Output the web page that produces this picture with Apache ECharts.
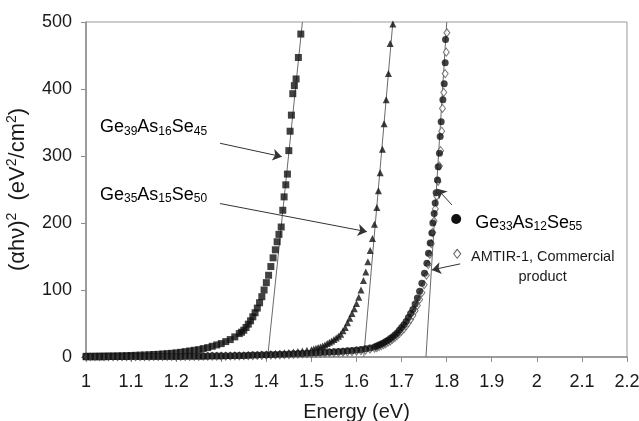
<!DOCTYPE html>
<html lang="en">
<head>
<meta charset="UTF-8">
<title>Tauc plot</title>
<script src="https://cdn.jsdelivr.net/npm/echarts@6.0.0/dist/echarts.min.js"></script>
<style>
    html, body { margin: 0; padding: 0; background: #fff; }
    #main { width: 639px; height: 421px; }
</style>
</head>
<body>
<div id="main"></div>
<script>
// ---- data: [energy (eV), (alpha h nu)^2] ----
var ge39 = [[1.00,1],[1.01,1],[1.02,1.1],[1.03,1.2],[1.04,1.3],[1.05,1.4],[1.06,1.5],[1.07,1.6],[1.08,1.8],[1.09,2],
    [1.10,2.2],[1.11,2.5],[1.12,2.8],[1.13,3],[1.14,3.3],[1.15,3.7],[1.16,4],[1.17,4.5],[1.18,5],[1.19,5.5],
    [1.20,6.2],[1.21,7],[1.22,8],[1.23,9],[1.24,10],[1.25,11],[1.26,12.5],[1.27,14],[1.28,16],[1.29,18],
    [1.30,20],[1.31,23],[1.32,26],[1.33,30],[1.34,35],[1.345,37],[1.35,40],[1.355,44],[1.36,49],[1.365,54],
    [1.37,60],[1.375,66],[1.38,73],[1.385,81],[1.39,90],[1.395,100],[1.40,111],[1.405,122],[1.41,135],[1.415,148],
    [1.42,160],[1.424,172],[1.428,183],[1.433,194],[1.4365,219],[1.4394,239],[1.4432,257],[1.4468,273],[1.4499,308],[1.4527,337],
    [1.4556,361],[1.4587,393],[1.4622,405],[1.466,415],[1.4711,447],[1.4765,482]];

var ge35 = [[1.00,0.5],[1.01,0.5],[1.02,0.5],[1.03,0.5],[1.04,0.5],[1.05,0.6],[1.06,0.6],[1.07,0.6],[1.08,0.7],[1.09,0.7],
    [1.10,0.8],[1.11,0.8],[1.12,0.9],[1.13,0.9],[1.14,1],[1.15,1],[1.16,1.1],[1.17,1.1],[1.18,1.2],[1.19,1.2],
    [1.20,1.3],[1.21,1.3],[1.22,1.4],[1.23,1.4],[1.24,1.5],[1.25,1.5],[1.26,1.6],[1.27,1.7],[1.28,1.8],[1.29,1.9],
    [1.30,2],[1.31,2.1],[1.32,2.2],[1.33,2.4],[1.34,2.6],[1.35,2.8],[1.36,3],[1.37,3.3],[1.38,3.6],[1.39,4],
    [1.40,4.4],[1.41,4.8],[1.42,5.2],[1.43,5.7],[1.44,6.2],[1.45,6.8],[1.46,7.5],[1.47,8.2],[1.48,9],[1.49,10],
    [1.50,11],[1.505,12],[1.51,13],[1.515,14],[1.52,15],[1.525,16.5],[1.53,18],[1.535,20],[1.54,22],[1.545,24],
    [1.55,26],[1.555,28.5],[1.56,31],[1.565,34],[1.57,39],[1.575,44],[1.58,51],[1.585,58],[1.59,65],[1.595,72],
    [1.60,80],[1.605,89],[1.61,100],[1.6154,114],[1.6207,127],[1.6252,142],[1.6303,159],[1.6354,177],[1.6398,198],[1.6452,223],
    [1.6487,248],[1.6525,275],[1.6576,310],[1.6613,348],[1.6658,384],[1.6709,423],[1.6747,468],[1.6807,497]];

var ge33 = [[1.00,0.8],[1.01,0.8],[1.02,0.8],[1.03,0.8],[1.04,0.8],[1.05,0.9],[1.06,0.9],[1.07,0.9],[1.08,0.9],[1.09,0.9],
    [1.10,1],[1.11,1],[1.12,1],[1.13,1.1],[1.14,1.1],[1.15,1.1],[1.16,1.2],[1.17,1.2],[1.18,1.2],[1.19,1.3],
    [1.20,1.3],[1.21,1.3],[1.22,1.4],[1.23,1.4],[1.24,1.5],[1.25,1.5],[1.26,1.6],[1.27,1.6],[1.28,1.7],[1.29,1.7],
    [1.30,1.8],[1.31,1.9],[1.32,2],[1.33,2.1],[1.34,2.2],[1.35,2.4],[1.36,2.6],[1.37,2.8],[1.38,3],[1.39,3.2],
    [1.40,3.4],[1.41,3.6],[1.42,3.8],[1.43,4],[1.44,4.2],[1.45,4.5],[1.46,4.8],[1.47,5.1],[1.48,5.4],[1.49,5.7],
    [1.50,6],[1.51,6.3],[1.52,6.6],[1.53,7],[1.54,7.4],[1.55,7.8],[1.56,8.2],[1.57,8.7],[1.58,9.2],[1.59,9.8],
    [1.60,10.5],[1.61,11.3],[1.62,12.3],[1.63,13.5],[1.64,15],[1.645,16.5],[1.65,18],[1.655,19.5],[1.66,21],[1.665,23],
    [1.67,25],[1.675,27.5],[1.68,30],[1.685,33],[1.69,36],[1.695,40],[1.70,44],[1.705,48],[1.71,53],[1.715,59],
    [1.72,65],[1.725,71],[1.73,79],[1.735,88],[1.74,98],[1.745,110],[1.7508,125],[1.7561,140],[1.7597,155],[1.7634,170],
    [1.7672,185],[1.7694,200],[1.7723,214],[1.7745,230],[1.7767,245],[1.7796,264],[1.7812,284],[1.784,304],[1.7856,329],[1.7878,351],
    [1.7916,384],[1.7945,408],[1.7967,439],[1.7975,474]];

var amtir = [[1.00,0.3],[1.01,0.3],[1.02,0.3],[1.03,0.3],[1.04,0.3],[1.05,0.4],[1.06,0.4],[1.07,0.4],[1.08,0.4],[1.09,0.5],
    [1.10,0.5],[1.11,0.5],[1.12,0.6],[1.13,0.6],[1.14,0.6],[1.15,0.7],[1.16,0.7],[1.17,0.7],[1.18,0.8],[1.19,0.8],
    [1.20,0.8],[1.21,0.9],[1.22,0.9],[1.23,0.9],[1.24,1],[1.25,1],[1.26,1.1],[1.27,1.1],[1.28,1.2],[1.29,1.2],
    [1.30,1.3],[1.31,1.4],[1.32,1.5],[1.33,1.6],[1.34,1.7],[1.35,1.8],[1.36,1.9],[1.37,2],[1.38,2.2],[1.39,2.4],
    [1.40,2.6],[1.41,2.8],[1.42,3],[1.43,3.2],[1.44,3.4],[1.45,3.6],[1.46,3.9],[1.47,4.2],[1.48,4.5],[1.49,4.8],
    [1.50,5.1],[1.51,5.4],[1.52,5.7],[1.53,6],[1.54,6.3],[1.55,6.6],[1.56,6.9],[1.57,7.2],[1.58,7.6],[1.59,8],
    [1.60,8.7],[1.61,9.4],[1.62,10.3],[1.63,11.5],[1.64,13],[1.645,14],[1.65,15.5],[1.655,17],[1.66,18.5],[1.665,20],
    [1.67,22],[1.675,24],[1.68,26.5],[1.685,29],[1.69,32],[1.695,35],[1.70,38.5],[1.705,42],[1.71,46.5],[1.715,51],
    [1.72,56],[1.725,62],[1.73,69],[1.735,77],[1.74,86],[1.745,96],[1.75,108],[1.755,122],[1.759,138],[1.7625,153],
    [1.766,169],[1.769,186],[1.772,203],[1.775,221],[1.778,240],[1.781,262],[1.784,285],[1.7865,308],[1.789,337],[1.7907,371],
    [1.7935,395],[1.7967,423],[1.799,455],[1.8005,484]];

// straight-line fits drawn through the linear part of each edge
var fit39 = [[1.403,0],[1.480,500]];
var fit35 = [[1.616,0],[1.6807,500]];
var fit33 = [[1.7541,0],[1.8002,500]];

// annotation arrows [from, to] and label anchors, in data units
var arrows = [
    [[1.2974,319],[1.4343,299]],
    [[1.2974,229],[1.623,187]],
    [[1.8116,227],[1.779,251]],
    [[1.830,139],[1.7672,130]]
];
var labelGe39 = [1.031,343];
var labelGe35 = [1.031,242];
var labelGe33 = [1.8633,200];
var labelAmtir = [2.013,135];
var keyGe33 = [1.8211,206];
var keyAmtir = [1.8234,154];

var FONT = 'Liberation Sans, Arial, sans-serif';
var myChart = echarts.init(document.getElementById('main'));

function fitSeries(d) {
    return {
        type: 'line', data: d, symbol: 'none', silent: true, z: 1,
        lineStyle: {color: '#6a6a6a', width: 1}
    };
}

var option = {
    animation: false,
    grid: {
        left: 86, right: 12, top: 22, bottom: 64, outerBoundsMode: 'none',
        show: true, borderColor: '#9a9a9a', borderWidth: 1
    },
    xAxis: {
        type: 'value', min: 1, max: 2.2, interval: 0.1,
        axisLine: {lineStyle: {color: '#8c8c8c', width: 1.5}},
        axisTick: {length: 5, lineStyle: {color: '#8c8c8c'}},
        splitLine: {show: false},
        axisLabel: {fontSize: 18, color: '#1a1a1a', margin: 16, fontFamily: FONT},
        name: 'Energy (eV)', nameLocation: 'middle', nameGap: 45,
        nameTextStyle: {fontSize: 20, color: '#1a1a1a', fontFamily: FONT}
    },
    yAxis: {
        type: 'value', min: 0, max: 500, interval: 100,
        axisLine: {show: true, lineStyle: {color: '#8c8c8c', width: 1.5}},
        axisTick: {show: true, length: 5, lineStyle: {color: '#8c8c8c'}},
        splitLine: {show: false},
        axisLabel: {fontSize: 18, color: '#1a1a1a', margin: 14, fontFamily: FONT},
        name: '{n|(\u03b1h\u03bd)}{p|2}{n|  (eV}{p|2}{n|/cm}{p|2}{n|)}', nameLocation: 'middle', nameGap: 55,
        nameTextStyle: {
            color: '#1a1a1a', fontFamily: FONT,
            rich: {
                n: {fontSize: 22, lineHeight: 26, fontFamily: FONT, color: '#1a1a1a'},
                p: {fontSize: 14, lineHeight: 14, verticalAlign: 'top', fontFamily: FONT, color: '#1a1a1a'}
            }
        }
    },
    series: [
        fitSeries(fit39),
        fitSeries(fit35),
        fitSeries(fit33),
        {
            name: 'Ge39As16Se45', type: 'scatter', data: ge39, symbol: 'rect', symbolSize: 7,
            itemStyle: {color: '#111'}, z: 3
        },
        {
            name: 'Ge35As15Se50', type: 'scatter', data: ge35, symbol: 'triangle', symbolSize: 7,
            itemStyle: {color: '#111'}, z: 3
        },
        {
            name: 'AMTIR-1', type: 'scatter', data: amtir, symbol: 'diamond', symbolSize: [6, 8],
            itemStyle: {color: '#fff', borderColor: '#555', borderWidth: 1}, z: 3,
            markPoint: {
                silent: true, symbol: 'diamond', symbolSize: [7, 9], label: {show: false},
                itemStyle: {color: '#fff', borderColor: '#555', borderWidth: 1},
                data: [{coord: keyAmtir}]
            }
        },
        {
            name: 'Ge33As12Se55', type: 'scatter', data: ge33, symbol: 'circle', symbolSize: 7,
            itemStyle: {color: '#111'}, z: 4,
            markPoint: {
                silent: true, symbol: 'circle', symbolSize: 10, label: {show: false},
                itemStyle: {color: '#111'},
                data: [{coord: keyGe33}]
            }
        },
        {
            // carries the pointer arrows, kept above the markers
            type: 'line', data: [], z: 6, silent: true,
            markLine: {
                silent: true, symbol: ['none', 'arrow'], symbolSize: 9,
                lineStyle: {color: '#333', width: 1, type: 'solid'},
                itemStyle: {color: '#333'},
                label: {show: false},
                data: arrows.map(function (a) { return [{coord: a[0]}, {coord: a[1]}]; })
            }
        }
    ]
};
myChart.setOption(option, true);

// formula labels with subscripts, placed from data coordinates
var rich = {
    m: {fontSize: 18, lineHeight: 20, fontFamily: FONT, color: '#1a1a1a'},
    s: {fontSize: 12, lineHeight: 8, verticalAlign: 'bottom', fontFamily: FONT, color: '#1a1a1a'}
};
function formula(pos, parts) {
    var p = myChart.convertToPixel({gridIndex: 0}, pos);
    var t = '{m|' + parts[0] + '}{s|' + parts[1] + '}{m|' + parts[2] + '}{s|' + parts[3] + '}{m|' + parts[4] + '}{s|' + parts[5] + '}';
    return {type: 'text', x: p[0], y: p[1], silent: true, style: {text: t, rich: rich, align: 'left', verticalAlign: 'middle'}};
}
var pa = myChart.convertToPixel({gridIndex: 0}, labelAmtir);
myChart.setOption({
    graphic: [
        formula(labelGe39, ['Ge', '39', 'As', '16', 'Se', '45']),
        formula(labelGe35, ['Ge', '35', 'As', '15', 'Se', '50']),
        formula(labelGe33, ['Ge', '33', 'As', '12', 'Se', '55']),
        {
            type: 'text', x: pa[0], y: pa[1], silent: true,
            style: {
                text: 'AMTIR-1, Commercial\nproduct', fontSize: 14.5, lineHeight: 20, fontFamily: FONT,
                fill: '#1a1a1a', align: 'center', verticalAlign: 'middle'
            }
        }
    ]
});
</script>
</body>
</html>
